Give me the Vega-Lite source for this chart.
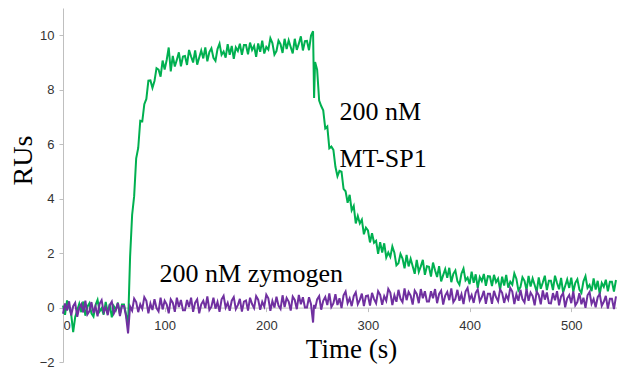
{
  "$schema": "https://vega.github.io/schema/vega-lite/v6.json",
  "width": 554,
  "height": 354,
  "autosize": {"type": "none"},
  "padding": {"left": 63, "top": 8, "right": 0, "bottom": 8},
  "background": "white",
  "config": {"view": {"stroke": null}},
  "datasets": {
    "curves": [
      {"t":0,"mtsp1":0.07,"zymogen":-0.23},{"t":2,"mtsp1":-0.27,"zymogen":0.15},{"t":4,"mtsp1":0.26,"zymogen":-0.11},{"t":6,"mtsp1":0.0,"zymogen":0.23},
      {"t":8,"mtsp1":-0.23,"zymogen":-0.29},{"t":10,"mtsp1":-0.9,"zymogen":0.05},{"t":12,"mtsp1":-0.35,"zymogen":0.17},{"t":14,"mtsp1":-0.1,"zymogen":-0.34},
      {"t":16,"mtsp1":0.14,"zymogen":-0.01},{"t":18,"mtsp1":-0.17,"zymogen":0.12},{"t":20,"mtsp1":0.22,"zymogen":-0.18},{"t":22,"mtsp1":-0.3,"zymogen":0.25},
      {"t":24,"mtsp1":0.03,"zymogen":-0.25},{"t":26,"mtsp1":0.16,"zymogen":-0.13},{"t":28,"mtsp1":-0.21,"zymogen":0.2},{"t":30,"mtsp1":-0.33,"zymogen":-0.2},
      {"t":32,"mtsp1":0.09,"zymogen":0.04},{"t":34,"mtsp1":0.28,"zymogen":-0.32},{"t":36,"mtsp1":-0.14,"zymogen":0.14},{"t":38,"mtsp1":-0.03,"zymogen":0.27},
      {"t":40,"mtsp1":-0.26,"zymogen":-0.16},{"t":42,"mtsp1":0.21,"zymogen":0.01},{"t":44,"mtsp1":-0.19,"zymogen":-0.28},{"t":46,"mtsp1":0.13,"zymogen":0.09},
      {"t":48,"mtsp1":-0.36,"zymogen":0.22},{"t":50,"mtsp1":0.05,"zymogen":-0.22},{"t":52,"mtsp1":-0.09,"zymogen":-0.07},{"t":54,"mtsp1":0.18,"zymogen":0.16},
      {"t":56,"mtsp1":-0.24,"zymogen":-0.31},{"t":58,"mtsp1":0.11,"zymogen":0.06},
      {"t":60,"mtsp1":0.11,"zymogen":0.06},{"t":62,"mtsp1":-0.24,"zymogen":-0.31},{"t":64,"mtsp1":-0.65,"zymogen":-0.95},{"t":66,"mtsp1":1.86,"zymogen":0.04},
      {"t":68,"mtsp1":3.4,"zymogen":-0.11},{"t":70,"mtsp1":4.09,"zymogen":0.33},{"t":72,"mtsp1":5.48,"zymogen":0.2},{"t":74,"mtsp1":5.86,"zymogen":-0.17},
      {"t":76,"mtsp1":6.86,"zymogen":0.12},{"t":78,"mtsp1":6.84,"zymogen":-0.05},{"t":80,"mtsp1":7.47,"zymogen":0.38},{"t":82,"mtsp1":7.66,"zymogen":0.25},
      {"t":84,"mtsp1":8.33,"zymogen":-0.21},{"t":86,"mtsp1":8.34,"zymogen":0.15},{"t":88,"mtsp1":8.07,"zymogen":-0.09},{"t":90,"mtsp1":8.32,"zymogen":0.31},
      {"t":92,"mtsp1":8.79,"zymogen":-0.02},{"t":94,"mtsp1":8.74,"zymogen":-0.14},{"t":96,"mtsp1":8.48,"zymogen":0.36},{"t":98,"mtsp1":9.07,"zymogen":-0.07},
      {"t":100,"mtsp1":8.74,"zymogen":0.25},{"t":102,"mtsp1":9.09,"zymogen":0.12},{"t":104,"mtsp1":9.55,"zymogen":-0.21},{"t":106,"mtsp1":8.67,"zymogen":0.3},
      {"t":108,"mtsp1":9.24,"zymogen":0.18},{"t":110,"mtsp1":8.85,"zymogen":-0.16},{"t":112,"mtsp1":9.1,"zymogen":0.36},{"t":114,"mtsp1":9.37,"zymogen":0.02},
      {"t":116,"mtsp1":8.86,"zymogen":0.28},{"t":118,"mtsp1":9.22,"zymogen":-0.1},
      {"t":120,"mtsp1":9.24,"zymogen":-0.1},{"t":122,"mtsp1":8.91,"zymogen":0.28},{"t":124,"mtsp1":9.46,"zymogen":0.02},{"t":126,"mtsp1":9.22,"zymogen":0.36},
      {"t":128,"mtsp1":9.0,"zymogen":-0.16},{"t":130,"mtsp1":9.44,"zymogen":0.18},{"t":132,"mtsp1":8.92,"zymogen":0.3},{"t":134,"mtsp1":9.18,"zymogen":-0.21},
      {"t":136,"mtsp1":9.44,"zymogen":0.12},{"t":138,"mtsp1":9.15,"zymogen":0.25},{"t":140,"mtsp1":9.55,"zymogen":-0.02},{"t":142,"mtsp1":9.04,"zymogen":0.41},
      {"t":144,"mtsp1":9.38,"zymogen":-0.09},{"t":146,"mtsp1":9.52,"zymogen":0.03},{"t":148,"mtsp1":9.17,"zymogen":0.36},{"t":150,"mtsp1":9.06,"zymogen":-0.04},
      {"t":152,"mtsp1":9.49,"zymogen":0.2},{"t":154,"mtsp1":9.69,"zymogen":-0.16},{"t":156,"mtsp1":9.28,"zymogen":0.3},{"t":158,"mtsp1":9.4,"zymogen":0.43},
      {"t":160,"mtsp1":9.18,"zymogen":0.0},{"t":162,"mtsp1":9.67,"zymogen":0.17},{"t":164,"mtsp1":9.28,"zymogen":-0.12},{"t":166,"mtsp1":9.61,"zymogen":0.25},
      {"t":168,"mtsp1":9.13,"zymogen":0.38},{"t":170,"mtsp1":9.55,"zymogen":-0.06},{"t":172,"mtsp1":9.42,"zymogen":0.09},{"t":174,"mtsp1":9.69,"zymogen":0.32},
      {"t":176,"mtsp1":9.28,"zymogen":-0.15},{"t":178,"mtsp1":9.64,"zymogen":0.22},
      {"t":180,"mtsp1":9.64,"zymogen":0.26},{"t":182,"mtsp1":9.3,"zymogen":-0.11},{"t":184,"mtsp1":9.73,"zymogen":0.36},{"t":186,"mtsp1":9.46,"zymogen":0.13},
      {"t":188,"mtsp1":9.61,"zymogen":-0.02},{"t":190,"mtsp1":9.21,"zymogen":0.42},{"t":192,"mtsp1":9.7,"zymogen":0.29},{"t":194,"mtsp1":9.39,"zymogen":-0.08},
      {"t":196,"mtsp1":9.8,"zymogen":0.21},{"t":198,"mtsp1":9.33,"zymogen":0.04},{"t":200,"mtsp1":9.57,"zymogen":0.47},{"t":202,"mtsp1":9.47,"zymogen":0.34},
      {"t":204,"mtsp1":9.89,"zymogen":-0.12},{"t":206,"mtsp1":9.71,"zymogen":0.24},{"t":208,"mtsp1":9.29,"zymogen":0.0},{"t":210,"mtsp1":9.42,"zymogen":0.4},
      {"t":212,"mtsp1":9.8,"zymogen":0.07},{"t":214,"mtsp1":9.67,"zymogen":-0.05},{"t":216,"mtsp1":9.35,"zymogen":0.45},{"t":218,"mtsp1":9.87,"zymogen":0.02},
      {"t":220,"mtsp1":9.49,"zymogen":0.35},{"t":222,"mtsp1":9.81,"zymogen":0.22},{"t":224,"mtsp1":9.57,"zymogen":-0.11},{"t":226,"mtsp1":9.33,"zymogen":0.4},
      {"t":228,"mtsp1":9.87,"zymogen":0.28},{"t":230,"mtsp1":9.46,"zymogen":-0.06},{"t":232,"mtsp1":9.69,"zymogen":0.46},{"t":234,"mtsp1":9.96,"zymogen":0.12},
      {"t":236,"mtsp1":9.44,"zymogen":0.38},{"t":238,"mtsp1":9.78,"zymogen":0.0},
      {"t":240,"mtsp1":9.79,"zymogen":0.0},{"t":242,"mtsp1":9.45,"zymogen":0.38},{"t":244,"mtsp1":9.99,"zymogen":0.12},{"t":246,"mtsp1":10.15,"zymogen":-0.55},
      {"t":247,"mtsp1":7.7,"zymogen":0.1},{"t":248,"mtsp1":9.02,"zymogen":-0.04},{"t":250,"mtsp1":8.74,"zymogen":0.3},{"t":252,"mtsp1":7.6,"zymogen":0.42},
      {"t":254,"mtsp1":7.4,"zymogen":-0.08},{"t":256,"mtsp1":7.24,"zymogen":0.25},{"t":258,"mtsp1":6.58,"zymogen":0.39},{"t":260,"mtsp1":6.65,"zymogen":0.09},
      {"t":262,"mtsp1":5.85,"zymogen":0.52},{"t":264,"mtsp1":5.91,"zymogen":0.02},{"t":266,"mtsp1":5.79,"zymogen":0.15},{"t":268,"mtsp1":5.17,"zymogen":0.49},
      {"t":270,"mtsp1":4.82,"zymogen":0.09},{"t":272,"mtsp1":5.02,"zymogen":0.34},{"t":274,"mtsp1":4.99,"zymogen":-0.02},{"t":276,"mtsp1":4.36,"zymogen":0.45},
      {"t":278,"mtsp1":4.27,"zymogen":0.59},{"t":280,"mtsp1":3.85,"zymogen":0.16},{"t":282,"mtsp1":4.14,"zymogen":0.34},{"t":284,"mtsp1":3.57,"zymogen":0.05},
      {"t":286,"mtsp1":3.73,"zymogen":0.42},{"t":288,"mtsp1":3.09,"zymogen":0.56},{"t":290,"mtsp1":3.36,"zymogen":0.12},{"t":292,"mtsp1":3.09,"zymogen":0.28},
      {"t":294,"mtsp1":3.23,"zymogen":0.51},{"t":296,"mtsp1":2.69,"zymogen":0.05},{"t":298,"mtsp1":2.93,"zymogen":0.42},
      {"t":300,"mtsp1":2.83,"zymogen":0.44},{"t":302,"mtsp1":2.39,"zymogen":0.07},{"t":304,"mtsp1":2.73,"zymogen":0.54},{"t":306,"mtsp1":2.38,"zymogen":0.31},
      {"t":308,"mtsp1":2.45,"zymogen":0.16},{"t":310,"mtsp1":1.97,"zymogen":0.6},{"t":312,"mtsp1":2.4,"zymogen":0.47},{"t":314,"mtsp1":2.02,"zymogen":0.1},
      {"t":316,"mtsp1":2.36,"zymogen":0.42},{"t":318,"mtsp1":1.84,"zymogen":0.25},{"t":320,"mtsp1":2.02,"zymogen":0.68},{"t":322,"mtsp1":1.86,"zymogen":0.55},
      {"t":324,"mtsp1":2.24,"zymogen":0.09},{"t":326,"mtsp1":2.01,"zymogen":0.45},{"t":328,"mtsp1":1.55,"zymogen":0.21},{"t":330,"mtsp1":1.63,"zymogen":0.65},
      {"t":332,"mtsp1":1.97,"zymogen":0.32},{"t":334,"mtsp1":1.8,"zymogen":0.2},{"t":336,"mtsp1":1.44,"zymogen":0.7},{"t":338,"mtsp1":1.93,"zymogen":0.27},
      {"t":340,"mtsp1":1.51,"zymogen":0.57},{"t":342,"mtsp1":1.79,"zymogen":0.44},{"t":344,"mtsp1":1.52,"zymogen":0.11},{"t":346,"mtsp1":1.24,"zymogen":0.62},
      {"t":348,"mtsp1":1.75,"zymogen":0.5},{"t":350,"mtsp1":1.31,"zymogen":0.16},{"t":352,"mtsp1":1.51,"zymogen":0.68},{"t":354,"mtsp1":1.75,"zymogen":0.34},
      {"t":356,"mtsp1":1.2,"zymogen":0.6},{"t":358,"mtsp1":1.52,"zymogen":0.22},
      {"t":360,"mtsp1":1.5,"zymogen":0.22},{"t":362,"mtsp1":1.14,"zymogen":0.6},{"t":364,"mtsp1":1.65,"zymogen":0.34},{"t":366,"mtsp1":1.37,"zymogen":0.68},
      {"t":368,"mtsp1":1.12,"zymogen":0.16},{"t":370,"mtsp1":1.52,"zymogen":0.5},{"t":372,"mtsp1":0.96,"zymogen":0.62},{"t":374,"mtsp1":1.19,"zymogen":0.11},
      {"t":376,"mtsp1":1.41,"zymogen":0.44},{"t":378,"mtsp1":1.09,"zymogen":0.57},{"t":380,"mtsp1":1.46,"zymogen":0.27},{"t":382,"mtsp1":0.93,"zymogen":0.7},
      {"t":384,"mtsp1":1.24,"zymogen":0.2},{"t":386,"mtsp1":1.36,"zymogen":0.32},{"t":388,"mtsp1":0.97,"zymogen":0.65},{"t":390,"mtsp1":0.84,"zymogen":0.25},
      {"t":392,"mtsp1":1.25,"zymogen":0.49},{"t":394,"mtsp1":1.43,"zymogen":0.13},{"t":396,"mtsp1":1.0,"zymogen":0.59},{"t":398,"mtsp1":1.1,"zymogen":0.72},
      {"t":400,"mtsp1":0.86,"zymogen":0.29},{"t":402,"mtsp1":1.32,"zymogen":0.46},{"t":404,"mtsp1":0.91,"zymogen":0.17},{"t":406,"mtsp1":1.22,"zymogen":0.54},
      {"t":408,"mtsp1":0.72,"zymogen":0.67},{"t":410,"mtsp1":1.12,"zymogen":0.23},{"t":412,"mtsp1":0.97,"zymogen":0.38},{"t":414,"mtsp1":1.23,"zymogen":0.61},
      {"t":416,"mtsp1":0.8,"zymogen":0.14},{"t":418,"mtsp1":1.15,"zymogen":0.51},
      {"t":420,"mtsp1":1.14,"zymogen":0.51},{"t":422,"mtsp1":0.79,"zymogen":0.14},{"t":424,"mtsp1":1.2,"zymogen":0.61},{"t":426,"mtsp1":0.93,"zymogen":0.38},
      {"t":428,"mtsp1":1.06,"zymogen":0.23},{"t":430,"mtsp1":0.65,"zymogen":0.67},{"t":432,"mtsp1":1.13,"zymogen":0.54},{"t":434,"mtsp1":0.81,"zymogen":0.17},
      {"t":436,"mtsp1":1.2,"zymogen":0.46},{"t":438,"mtsp1":0.73,"zymogen":0.29},{"t":440,"mtsp1":0.95,"zymogen":0.72},{"t":442,"mtsp1":0.84,"zymogen":0.59},
      {"t":444,"mtsp1":1.25,"zymogen":0.13},{"t":446,"mtsp1":1.06,"zymogen":0.49},{"t":448,"mtsp1":0.63,"zymogen":0.25},{"t":450,"mtsp1":0.75,"zymogen":0.65},
      {"t":452,"mtsp1":1.11,"zymogen":0.31},{"t":454,"mtsp1":0.98,"zymogen":0.19},{"t":456,"mtsp1":0.64,"zymogen":0.68},{"t":458,"mtsp1":1.16,"zymogen":0.25},
      {"t":460,"mtsp1":0.77,"zymogen":0.55},{"t":462,"mtsp1":1.07,"zymogen":0.42},{"t":464,"mtsp1":0.83,"zymogen":0.08},{"t":466,"mtsp1":0.58,"zymogen":0.59},
      {"t":468,"mtsp1":1.11,"zymogen":0.46},{"t":470,"mtsp1":0.69,"zymogen":0.12},{"t":472,"mtsp1":0.92,"zymogen":0.63},{"t":474,"mtsp1":1.17,"zymogen":0.29},
      {"t":476,"mtsp1":0.64,"zymogen":0.55},{"t":478,"mtsp1":0.98,"zymogen":0.16},
      {"t":480,"mtsp1":0.98,"zymogen":0.15},{"t":482,"mtsp1":0.64,"zymogen":0.53},{"t":484,"mtsp1":1.17,"zymogen":0.27},{"t":486,"mtsp1":0.9,"zymogen":0.6},
      {"t":488,"mtsp1":0.67,"zymogen":0.08},{"t":490,"mtsp1":1.09,"zymogen":0.41},{"t":492,"mtsp1":0.55,"zymogen":0.53},{"t":494,"mtsp1":0.79,"zymogen":0.01},
      {"t":496,"mtsp1":1.03,"zymogen":0.34},{"t":498,"mtsp1":0.72,"zymogen":0.46},{"t":500,"mtsp1":1.1,"zymogen":0.16},{"t":502,"mtsp1":0.58,"zymogen":0.59},
      {"t":504,"mtsp1":0.91,"zymogen":0.08},{"t":506,"mtsp1":1.04,"zymogen":0.2},{"t":508,"mtsp1":0.66,"zymogen":0.53},{"t":510,"mtsp1":0.54,"zymogen":0.12},
      {"t":512,"mtsp1":0.96,"zymogen":0.36},{"t":514,"mtsp1":1.15,"zymogen":-0.01},{"t":516,"mtsp1":0.72,"zymogen":0.45},{"t":518,"mtsp1":0.83,"zymogen":0.57},
      {"t":520,"mtsp1":0.6,"zymogen":0.14},{"t":522,"mtsp1":1.07,"zymogen":0.31},{"t":524,"mtsp1":0.66,"zymogen":0.01},{"t":526,"mtsp1":0.98,"zymogen":0.38},
      {"t":528,"mtsp1":0.49,"zymogen":0.5},{"t":530,"mtsp1":0.9,"zymogen":0.06},{"t":532,"mtsp1":0.76,"zymogen":0.21},{"t":534,"mtsp1":1.02,"zymogen":0.43},
      {"t":536,"mtsp1":0.6,"zymogen":-0.04},{"t":538,"mtsp1":0.95,"zymogen":0.32},
      {"t":540,"mtsp1":0.95,"zymogen":0.32},{"t":542,"mtsp1":0.59,"zymogen":-0.06},{"t":544,"mtsp1":1.01,"zymogen":0.41}
    ],
    "notes": [
      {"label": "200 nM", "t": 272, "v": 6.9},
      {"label": "MT-SP1", "t": 272, "v": 5.15},
      {"label": "200 nM zymogen", "t": 95, "v": 0.92}
    ]
  },
  "layer": [
    {
      "data": {"name": "curves"},
      "transform": [{"fold": ["mtsp1", "zymogen"], "as": ["series", "value"]}],
      "mark": {"type": "line", "strokeWidth": 2},
      "encoding": {
        "x": {
          "field": "t", "type": "quantitative",
          "scale": {"domain": [0, 545], "nice": false},
          "axis": {
            "title": "Time (s)", "values": [0, 100, 200, 300, 400, 500], "offset": -54.4,
            "grid": false, "domainColor": "#bfbfbf", "tickColor": "#bfbfbf", "tickSize": 4,
            "labelFont": "Liberation Sans", "labelFontSize": 13, "labelColor": "#333333", "labelPadding": 8,
            "titleFont": "Liberation Serif", "titleFontSize": 27, "titleFontWeight": "normal", "titleColor": "black",
            "titleX": 288, "titleY": 50, "titleBaseline": "alphabetic", "titleAlign": "center"
          }
        },
        "y": {
          "field": "value", "type": "quantitative",
          "scale": {"domain": [-2, 11], "nice": false},
          "axis": {
            "title": "RUs", "values": [-2, 0, 2, 4, 6, 8, 10],
            "grid": false, "domainColor": "#bfbfbf", "tickColor": "#bfbfbf", "tickSize": 4,
            "labelFont": "Liberation Sans", "labelFontSize": 13, "labelColor": "#333333", "labelPadding": 5,
            "titleFont": "Liberation Serif", "titleFontSize": 28, "titleFontWeight": "normal", "titleColor": "black",
            "titleX": -40, "titleY": 152, "titleAngle": -90, "titleAlign": "center", "titleBaseline": "middle"
          }
        },
        "color": {
          "field": "series", "type": "nominal",
          "scale": {"domain": ["mtsp1", "zymogen"], "range": ["#00B050", "#7030A0"]},
          "legend": null
        }
      }
    },
    {
      "data": {"name": "notes"},
      "mark": {"type": "text", "align": "left", "baseline": "alphabetic", "font": "Liberation Serif", "fontSize": 26, "color": "black"},
      "encoding": {
        "x": {"field": "t", "type": "quantitative"},
        "y": {"field": "v", "type": "quantitative"},
        "text": {"field": "label"}
      }
    }
  ]
}
